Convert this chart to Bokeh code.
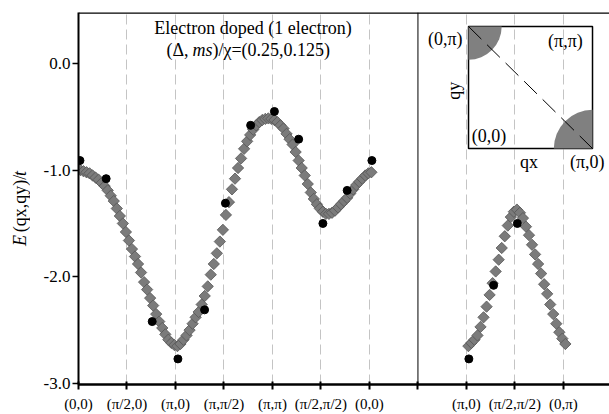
import numpy as np
from bokeh.plotting import figure
from bokeh.layouts import row
from bokeh.models import Range1d, FixedTicker, Span, Label, PrintfTickFormatter
from bokeh.embed import file_html
from bokeh.resources import INLINE

FONT = "Liberation Serif"

# ---- data -------------------------------------------------------------
tick_pos = [0, 1, 2, 3, 4, 5, 6, 7, 8, 9, 10]
tick_labels = ["(0,0)", "(\u03c0/2,0)", "(\u03c0,0)", "(\u03c0,\u03c0/2)", "(\u03c0,\u03c0)",
               "(\u03c0/2,\u03c0/2)", "(0,0)", "", "(\u03c0,0)", "(\u03c0/2,\u03c0/2)", "(0,\u03c0)"]
y_ticks = [0.0, -1.0, -2.0, -3.0]
grid_pos = [1, 2, 3, 4, 5, 6, 8, 9, 10]
divider_pos = 7

# dense model curve (grey diamonds), 16 points per tick interval
path_start = 0.04
path_step = 1.0 / 16
curve_left = [
    -1.00, -1.01, -1.02, -1.03, -1.05, -1.07, -1.09, -1.12, -1.15, -1.19, -1.24,
    -1.29, -1.36, -1.43, -1.50, -1.58, -1.66, -1.74, -1.81, -1.88, -1.96, -2.05,
    -2.12, -2.20, -2.27, -2.35, -2.42, -2.48, -2.54, -2.59, -2.62, -2.64, -2.65,
    -2.63, -2.59, -2.55, -2.50, -2.44, -2.38, -2.33, -2.26, -2.18, -2.09, -1.98,
    -1.88, -1.78, -1.67, -1.56, -1.42, -1.30, -1.18, -1.08, -0.98, -0.89, -0.80,
    -0.73, -0.67, -0.62, -0.58, -0.55, -0.53, -0.52, -0.515, -0.52, -0.53,
    -0.55, -0.58, -0.61, -0.66, -0.71, -0.76, -0.83, -0.91, -0.98, -1.05, -1.13,
    -1.21, -1.27, -1.32, -1.36, -1.39, -1.41, -1.41, -1.40, -1.38, -1.35, -1.32,
    -1.29, -1.26, -1.22, -1.18, -1.14, -1.11, -1.08, -1.05, -1.03, -1.02,
]
right_start = 8.04
curve_right = [
    -2.65, -2.62, -2.59, -2.55, -2.47, -2.38, -2.28, -2.17, -2.06, -1.95, -1.84,
    -1.73, -1.62, -1.52, -1.44, -1.39, -1.37, -1.40, -1.45, -1.53, -1.61, -1.70,
    -1.79, -1.88, -1.97, -2.07, -2.16, -2.26, -2.35, -2.44, -2.52, -2.58, -2.63,
]

# reference points (black dots)
dots_x = [0.03, 0.57, 1.52, 2.05, 2.60, 3.03, 3.55, 4.04, 4.54, 5.04, 5.54, 6.05,
          8.05, 8.56, 9.05]
dots_y = [-0.91, -1.08, -2.42, -2.77, -2.31, -1.31, -0.58, -0.45, -0.71, -1.50,
          -1.19, -0.91, -2.77, -2.08, -1.50]

# inset: Brillouin-zone quarter with shaded pockets
bz_size = np.pi
pocket_x = [0.0, np.pi]
pocket_y = [np.pi, 0.0]
pocket_r = [0.84, 0.98]
pocket_start = [-np.pi / 2, np.pi / 2]
pocket_end = [0.0, np.pi]

# ---- left strip holding the y-axis title ------------------------------
lab = figure(width=30, height=414, x_range=Range1d(0, 30), y_range=Range1d(414, 0),
             x_axis_type=None, y_axis_type=None, output_backend="svg",
             toolbar_location=None, min_border=0)
lab.outline_line_color = None
lab.grid.visible = False
for txt, ly, style in (("E", 260, "italic"), ("(qx,qy)/", 244.5, "normal"),
                       ("t", 182, "italic")):
    lab.add_layout(Label(x=19.5, y=ly, text=txt, angle=np.pi / 2, text_align="left",
                         text_baseline="middle", text_font=FONT, text_font_size="18px",
                         text_font_style=style, text_color="black"))

# ---- main figure ------------------------------------------------------
p = figure(width=579, height=414,
           x_range=Range1d(0, 10.95), y_range=Range1d(-3.01, 0.478),
           output_backend="svg", toolbar_location=None,
           min_border_left=48, min_border_right=0, min_border_top=12,
           min_border_bottom=30)
p.outline_line_color = None
p.background_fill_color = "white"
p.border_fill_color = "white"

xa = p.xaxis[0]
xa.ticker = FixedTicker(ticks=tick_pos)
xa.major_label_overrides = {t: l for t, l in zip(tick_pos, tick_labels)}
xa.axis_line_width = 2.5
xa.axis_line_color = "black"
xa.major_tick_out = 5
xa.major_tick_in = 3
xa.major_tick_line_width = 2
xa.minor_tick_line_color = None
xa.major_label_standoff = 6
xa.major_label_text_font = FONT
xa.major_label_text_font_size = "15px"
xa.major_label_text_color = "black"

ya = p.yaxis[0]
ya.ticker = FixedTicker(ticks=y_ticks)
ya.formatter = PrintfTickFormatter(format="%.1f")
ya.axis_line_width = 2
ya.axis_line_color = "black"
ya.major_tick_out = 6
ya.major_tick_in = 0
ya.major_tick_line_width = 1.5
ya.minor_tick_line_color = None
ya.major_label_standoff = 2
ya.major_label_text_font = FONT
ya.major_label_text_font_size = "17px"
ya.major_label_text_color = "black"

p.xgrid.ticker = FixedTicker(ticks=grid_pos)
p.xgrid.grid_line_color = "#c4c4c4"
p.xgrid.grid_line_dash = "10 5"
p.xgrid.grid_line_width = 1
p.ygrid.grid_line_color = None

p.add_layout(Span(location=divider_pos, dimension="height", line_color="black", line_width=1))
p.add_layout(Span(location=0.478, dimension="width", line_color="black", line_width=2.5))

# curves
x_left = path_start + path_step * np.arange(len(curve_left))
x_right = right_start + path_step * np.arange(len(curve_right))
for xs, ys in ((x_left, curve_left), (x_right, curve_right)):
    p.scatter(xs, ys, marker="square", angle=np.pi / 4, size=8,
              fill_color="#7b7b7b", line_color="#555555", line_width=0.8)
p.scatter(dots_x, dots_y, marker="circle", size=8, fill_color="black", line_color="black")

# inset
p.extra_x_ranges = {"qx": Range1d(-9.882, 3.572)}
p.extra_y_ranges = {"qy": Range1d(-6.076, 3.502)}
p.quad(left=[0], right=[bz_size], bottom=[0], top=[bz_size], fill_alpha=0,
       line_color="black", line_width=1.5, x_range_name="qx", y_range_name="qy")
p.wedge(x=pocket_x, y=pocket_y, radius=pocket_r, start_angle=pocket_start,
        end_angle=pocket_end, fill_color="#808080", line_color=None,
        x_range_name="qx", y_range_name="qy")
p.line([0, bz_size], [bz_size, 0], line_color="black", line_width=1,
       line_dash="18 8", x_range_name="qx", y_range_name="qy")

inset_labels = [
    ("(0,\u03c0)", -0.15, 2.83, "right", 0),
    ("(\u03c0,\u03c0)", 2.456, 2.78, "center", 0),
    ("qy", -0.38, 1.49, "center", np.pi / 2),
    ("(0,0)", 0.52, 0.335, "center", 0),
    ("qx", 1.53, -0.36, "center", 0),
    ("(\u03c0,0)", 3.01, -0.36, "center", 0),
]
for txt, lx, ly, al, ang in inset_labels:
    p.add_layout(Label(x=lx, y=ly, text=txt, x_range_name="qx", y_range_name="qy",
                       text_align=al, text_baseline="middle", angle=ang,
                       text_font=FONT, text_font_size="18px", text_color="black"))

# title text
p.add_layout(Label(x=3.60, y=0.328, text="Electron doped (1 electron)", text_align="center",
                   text_baseline="middle", text_font=FONT, text_font_size="18px",
                   text_color="black"))
for txt, off, style in (("(\u0394,", 0, "normal"), ("ms", 26, "italic"),
                        (")/\u03c7=(0.25,0.125)", 46, "normal")):
    p.add_layout(Label(x=1.814, y=0.122, x_offset=off, text=txt, text_align="left",
                       text_baseline="middle", text_font=FONT, text_font_size="18px",
                       text_font_style=style, text_color="black"))

layout = row(lab, p, spacing=0)
open("out.html", "w").write(file_html(layout, INLINE))
